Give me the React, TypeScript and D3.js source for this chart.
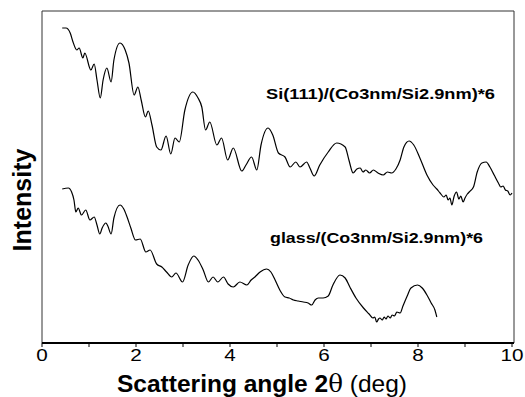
import * as d3 from "d3";

// top curve: Si(111) substrate, [2theta (deg), intensity (a.u.)]
const siAngle = [0.43, 0.51, 0.6, 0.66, 0.74, 0.79, 0.87, 0.91, 1.04, 1.11, 1.17, 1.24, 1.3, 1.38, 1.47, 1.53, 1.66, 1.77, 1.85, 1.96, 2.04, 2.11, 2.2, 2.26, 2.34, 2.44, 2.53, 2.64, 2.74, 2.83, 2.92, 3.04, 3.21, 3.32, 3.4, 3.48, 3.57, 3.72, 3.82, 3.95, 4.07, 4.25, 4.34, 4.46, 4.57, 4.66, 4.81, 4.91, 5.03, 5.17, 5.28, 5.4, 5.49, 5.63, 5.7, 5.79, 5.91, 6.09, 6.27, 6.45, 6.53, 6.62, 6.7, 6.77, 6.83, 6.89, 6.97, 7.05, 7.15, 7.26, 7.35, 7.44, 7.53, 7.62, 7.7, 7.81, 7.91, 8.04, 8.19, 8.32, 8.4, 8.47, 8.55, 8.6, 8.64, 8.68, 8.72, 8.77, 8.82, 8.87, 8.91, 8.96, 9.0, 9.05, 9.09, 9.18, 9.26, 9.36, 9.45, 9.53, 9.62, 9.71, 9.76, 9.81, 9.86, 9.91, 9.96, 10.0];
const siIntensity = [315, 315, 310, 301, 293, 295, 285, 290, 273, 279, 263, 245, 263, 275, 261, 283, 300, 293, 280, 248, 256, 243, 226, 232, 218, 196, 193, 207, 189, 205, 201, 233, 251, 245, 236, 213, 221, 198, 205, 183, 195, 172, 178, 186, 173, 198, 215, 208, 190, 186, 176, 181, 176, 181, 175, 167, 178, 191, 200, 196, 183, 170, 174, 175, 171, 173, 170, 173, 170, 168, 171, 170, 174, 183, 196, 202, 198, 185, 168, 158, 154, 150, 146, 148, 143, 145, 138, 147, 151, 144, 147, 141, 145, 149, 151, 156, 171, 180, 181, 176, 168, 160, 156, 157, 153, 152, 148, 150];

// bottom curve: glass substrate
const glassAngle = [0.43, 0.56, 0.63, 0.68, 0.72, 0.77, 0.84, 0.93, 1.02, 1.11, 1.17, 1.23, 1.28, 1.36, 1.4, 1.47, 1.53, 1.66, 1.74, 1.81, 1.89, 1.99, 2.09, 2.21, 2.3, 2.44, 2.55, 2.65, 2.76, 2.85, 2.99, 3.11, 3.23, 3.32, 3.43, 3.54, 3.64, 3.74, 3.86, 3.96, 4.07, 4.21, 4.36, 4.45, 4.53, 4.64, 4.78, 4.87, 4.96, 5.06, 5.17, 5.26, 5.35, 5.45, 5.56, 5.66, 5.74, 5.81, 5.88, 5.98, 6.09, 6.19, 6.34, 6.45, 6.55, 6.68, 6.84, 6.96, 7.04, 7.08, 7.12, 7.16, 7.19, 7.24, 7.28, 7.32, 7.36, 7.41, 7.45, 7.5, 7.55, 7.62, 7.68, 7.77, 7.85, 7.99, 8.09, 8.19, 8.28, 8.36, 8.4];
const glassIntensity = [154, 155, 151, 143, 131, 135, 128, 133, 123, 126, 118, 109, 115, 120, 117, 109, 125, 138, 134, 126, 115, 103, 104, 91, 93, 79, 76, 71, 66, 70, 61, 78, 87, 83, 73, 61, 66, 61, 66, 59, 56, 61, 58, 63, 66, 71, 74, 71, 63, 53, 46, 45, 43, 42, 41, 40, 38, 43, 45, 45, 47, 58, 68, 65, 56, 45, 35, 29, 25, 26, 21, 24, 25, 23, 26, 24, 27, 25, 28, 27, 31, 30, 37, 47, 55, 58, 55, 48, 40, 33, 26];

const xTicks = [0, 1, 2, 3, 4, 5, 6, 7, 8, 9, 10];
const xTickLabels = ["0", "2", "4", "6", "8", "10"];
const labelSi = "Si(111)/(Co3nm/Si2.9nm)*6";
const labelGlass = "glass/(Co3nm/Si2.9nm)*6";

const W = 525;
const H = 397;
const left = 42;
const right = 514;
const top = 11;
const bottom = 343;

export default function App() {
  const x = d3.scaleLinear().domain([0, 10]).range([left, left + 470]);
  const y = d3.scaleLinear().domain([0, 332]).range([bottom, top]);

  const line = d3
    .line<[number, number]>()
    .x((d) => x(d[0]))
    .y((d) => y(d[1]))
    .curve(d3.curveMonotoneX);

  const siPts = siAngle.map((a, i) => [a, siIntensity[i]] as [number, number]);
  const glassPts = glassAngle.map((a, i) => [a, glassIntensity[i]] as [number, number]);

  const font = "Arial, 'Liberation Sans', Helvetica, sans-serif";

  return (
    <svg
      width={W}
      height={H}
      style={{ position: "absolute", left: 0, top: 0, background: "#fff" }}
      fontFamily={font}
    >
      {/* frame */}
      <path
        d={`M${left},${bottom}V${top}H${right}V${bottom}`}
        fill="none"
        stroke="#333"
        strokeWidth={1}
      />
      <line x1={left} x2={right} y1={bottom} y2={bottom} stroke="#000" strokeWidth={2} />

      {xTicks.map((t) => (
        <line key={t} x1={x(t)} x2={x(t)} y1={bottom} y2={bottom + 4} stroke="#000" strokeWidth={1} />
      ))}
      {xTickLabels.map((t) => (
        <text
          key={t}
          x={x(+t)}
          y={361}
          textAnchor="middle"
          fontSize={17}
          textLength={t.length * 11.5}
          lengthAdjust="spacingAndGlyphs"
          fill="#000"
        >
          {t}
        </text>
      ))}

      {/* curves */}
      <path d={line(siPts) ?? ""} fill="none" stroke="#000" strokeWidth={1.2} />
      <path d={line(glassPts) ?? ""} fill="none" stroke="#000" strokeWidth={1.2} />

      {/* annotations */}
      <text
        x={266}
        y={99}
        fontSize={15.5}
        fontWeight="bold"
        textLength={229}
        lengthAdjust="spacingAndGlyphs"
      >
        {labelSi}
      </text>
      <text
        x={270}
        y={243}
        fontSize={15.5}
        fontWeight="bold"
        textLength={213}
        lengthAdjust="spacingAndGlyphs"
      >
        {labelGlass}
      </text>

      {/* axis titles */}
      <text x={117} y={392} fontSize={24} textLength={290} lengthAdjust="spacingAndGlyphs">
        <tspan fontWeight="bold">Scattering angle 2</tspan>
        <tspan fontFamily="'DejaVu Serif', serif">θ</tspan>
        <tspan> (deg)</tspan>
      </text>
      <text
        transform="translate(31,200) rotate(-90)"
        textAnchor="middle"
        fontSize={25}
        fontWeight="bold"
      >
        Intensity
      </text>
    </svg>
  );
}
